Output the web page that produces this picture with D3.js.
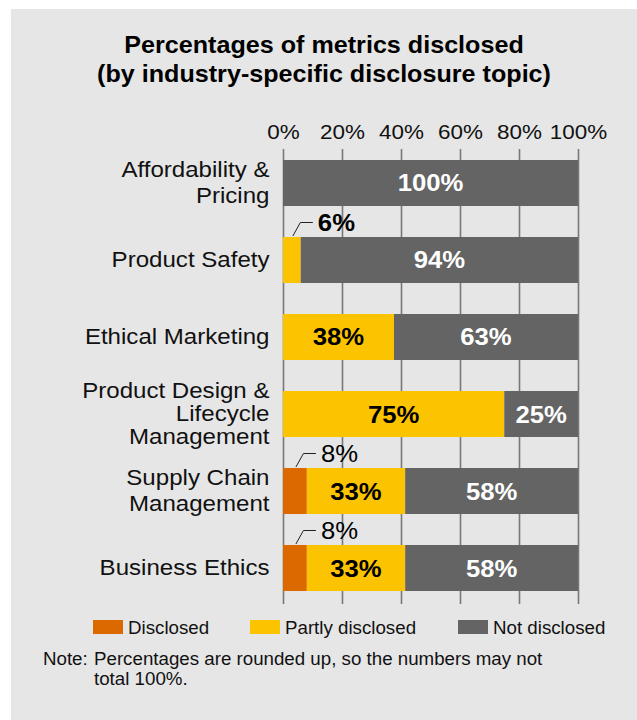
<!DOCTYPE html>
<html>
<head>
<meta charset="utf-8">
<script src="https://cdn.jsdelivr.net/npm/d3@7/dist/d3.min.js"></script>
<style>
  html, body { margin: 0; padding: 0; background: #ffffff; }
  svg { display: block; font-family: "Liberation Sans", Arial, Helvetica, sans-serif; }
</style>
</head>
<body>
<svg id="chart" width="637" height="720"></svg>
<script>
// Topics (line breaks mark how each label wraps)
const categories = [
  "Affordability &\nPricing",
  "Product Safety",
  "Ethical Marketing",
  "Product Design &\nLifecycle\nManagement",
  "Supply Chain\nManagement",
  "Business Ethics"
];
const seriesNames = ["Disclosed", "Partly disclosed", "Not disclosed"];
const disclosed    = [0, 0, 0, 0, 8, 8];
const partly       = [0, 6, 38, 75, 33, 33];
const notDisclosed = [100, 94, 63, 25, 58, 58];
const tickValues = [0, 0.2, 0.4, 0.6, 0.8, 1];
const tickLabels = ["0%", "20%", "40%", "60%", "80%", "100%"];
const titleLines = ["Percentages of metrics disclosed", "(by industry-specific disclosure topic)"];
const noteLines = ["Percentages are rounded up, so the numbers may not", "total 100%."];

const colors = ["#dc6900", "#fcc400", "#646464"];
const labelColors = ["#000000", "#000000", "#ffffff"];
const SX = 1.07; // horizontal widening applied to text

const svg = d3.select("#chart");

// panel background
svg.append("rect").attr("x", 11).attr("y", 9).attr("width", 626).attr("height", 711).attr("fill", "#e6e6e6");

// place a text element at (x, y), widened horizontally around its anchor
function placeText(parent, x, y) {
  return parent.append("text").attr("transform", `translate(${x},${y}) scale(${SX},1)`);
}

// title
titleLines.forEach((t, i) => {
  placeText(svg, 324, 52.5 + i * 29.5)
    .attr("text-anchor", "middle")
    .attr("font-size", 23.5)
    .attr("font-weight", "bold")
    .attr("fill", "#000")
    .text(t);
});

// rows
const rows = categories.map((c, i) => ({
  cat: c,
  [seriesNames[0]]: disclosed[i],
  [seriesNames[1]]: partly[i],
  [seriesNames[2]]: notDisclosed[i]
}));
const stacked = d3.stack().keys(seriesNames).offset(d3.stackOffsetExpand)(rows);

const x = d3.scaleLinear().domain([0, 1]).range([283, 578]);
const y = d3.scaleBand().domain(categories).range([144.6, 606.4]).paddingInner(0.4026).paddingOuter(0.2);

// axis with gridlines
const axis = svg.append("g")
  .attr("transform", "translate(0,149)")
  .call(d3.axisTop(x).tickValues(tickValues).tickFormat((d, i) => tickLabels[i]).tickSize(-455).tickPadding(10));
axis.select(".domain").remove();
axis.selectAll(".tick line").attr("stroke", "#787878").attr("stroke-width", 1.6);
axis.selectAll(".tick text")
  .attr("font-size", 21)
  .attr("font-family", "Liberation Sans, Arial, sans-serif")
  .attr("fill", "#111")
  .attr("transform", `scale(${SX},1)`);

// category labels
categories.forEach(c => {
  const lines = c.split("\n");
  const lh = lines.length === 3 ? 23 : 26;
  const cy = y(c) + y.bandwidth() / 2;
  const first = cy + 7 - (lines.length - 1) * lh / 2;
  const t = placeText(svg, 269.5, first)
    .attr("text-anchor", "end")
    .attr("font-size", 22.5)
    .attr("fill", "#111");
  lines.forEach((l, i) => {
    t.append("tspan").attr("x", 0).attr("dy", i === 0 ? 0 : lh).text(l);
  });
});

// bars
stacked.forEach((s, si) => {
  svg.append("g").selectAll("rect")
    .data(s.filter(d => d[1] > d[0]))
    .join("rect")
    .attr("x", d => x(d[0]))
    .attr("y", d => y(d.data.cat))
    .attr("width", d => x(d[1]) - x(d[0]))
    .attr("height", y.bandwidth())
    .attr("fill", colors[si]);
});

// value labels
stacked.forEach((s, si) => {
  s.forEach(d => {
    const v = d.data[s.key];
    if (!v) return;
    const top = y(d.data.cat);
    const cx = (x(d[0]) + x(d[1])) / 2;
    if (v < 10) {
      // small segment: label above the bar with a leader line
      svg.append("path")
        .attr("d", d3.line()([[cx + 1, top - 1], [cx + 8.5, top - 14.5], [cx + 21, top - 14.5]]))
        .attr("fill", "none")
        .attr("stroke", "#222")
        .attr("stroke-width", 1);
      placeText(svg, cx + 26, top - 6.5)
        .attr("font-size", 24)
        .attr("font-weight", si === 1 ? "bold" : "normal")
        .attr("fill", "#000")
        .text(v + "%");
    } else {
      placeText(svg, cx, top + y.bandwidth() / 2 + 8.5)
        .attr("text-anchor", "middle")
        .attr("font-size", 24)
        .attr("font-weight", "bold")
        .attr("fill", labelColors[si])
        .text(v + "%");
    }
  });
});

// legend
const legendX = [93, 250, 458];
seriesNames.forEach((n, i) => {
  svg.append("rect").attr("x", legendX[i]).attr("y", 620).attr("width", 30).attr("height", 14).attr("fill", colors[i]);
  placeText(svg, legendX[i] + 35, 634)
    .attr("font-size", 17.5)
    .attr("fill", "#111")
    .text(n);
});

// note
placeText(svg, 43, 665).attr("font-size", 17.5).attr("fill", "#111").text("Note:");
noteLines.forEach((l, i) => {
  placeText(svg, 94, 665 + i * 20).attr("font-size", 17.5).attr("fill", "#111").text(l);
});
</script>
</body>
</html>
